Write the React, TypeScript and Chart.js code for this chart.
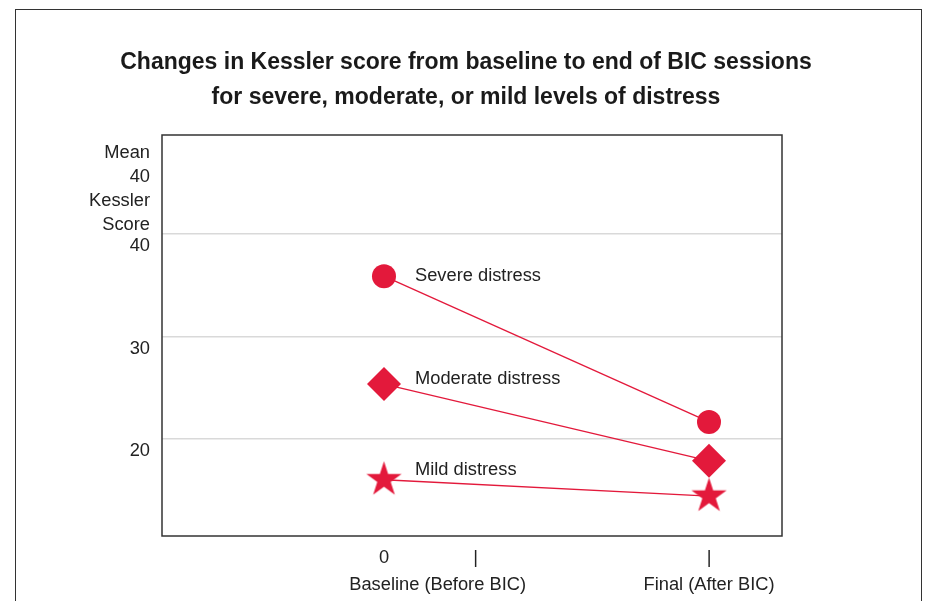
import React, { useEffect, useRef } from "react";
import { Chart, registerables } from "chart.js";

Chart.register(...registerables);

const titleLines = [
  "Changes in Kessler score from baseline to end of BIC sessions",
  "for severe, moderate, or mild levels of distress",
];
const yAxisLabelLines = ["Mean", "40", "Kessler", "Score"];
const yTickValues = [20, 30, 40];
const timePoints = [0, 1];
const seriesNames = ["Severe distress", "Moderate distress", "Mild distress"];
const severeValues = [35.9, 21.65];
const moderateValues = [25.35, 17.85];
const mildValues = [16.0, 14.4];
const xTickValues = [0, 0.165, 0.282, 1];
const xTickLabels: (string | string[])[] = ["0", ["", "Baseline (Before BIC)"], "|", ["|", "Final (After BIC)"]];

const RED = "#e3193b";
const FONT = "'Liberation Sans', Arial, Helvetica, sans-serif";
const LBL = 18.3;

function makeStar(R: number): HTMLCanvasElement {
  const c = document.createElement("canvas");
  const s = Math.ceil(R * 2 + 2);
  c.width = s;
  c.height = s;
  const ctx = c.getContext("2d")!;
  const cx = s / 2;
  const cy = s / 2;
  const r = R * 0.382;
  ctx.beginPath();
  for (let i = 0; i < 10; i++) {
    const ang = -Math.PI / 2 + (i * Math.PI) / 5;
    const rad = i % 2 === 0 ? R : r;
    const x = cx + Math.cos(ang) * rad;
    const y = cy + Math.sin(ang) * rad;
    if (i === 0) ctx.moveTo(x, y);
    else ctx.lineTo(x, y);
  }
  ctx.closePath();
  ctx.fillStyle = RED;
  ctx.fill();
  return c;
}

export default function App() {
  const ref = useRef<HTMLCanvasElement | null>(null);

  useEffect(() => {
    if (!ref.current) return;
    const star = makeStar(18.5);
    const labelOffsets = [0, -5, -10];

    const decor = {
      id: "decor",
      beforeDatasetsDraw(chart: any) {
        const { ctx, chartArea } = chart;
        ctx.save();
        ctx.strokeStyle = "#333";
        ctx.lineWidth = 1.5;
        ctx.strokeRect(chartArea.left, chartArea.top, chartArea.right - chartArea.left, chartArea.bottom - chartArea.top);
        ctx.restore();
      },
      afterDraw(chart: any) {
        const { ctx, chartArea } = chart;
        ctx.save();
        ctx.fillStyle = "#1a1a1a";
        ctx.font = `bold 23px ${FONT}`;
        ctx.textAlign = "center";
        ctx.textBaseline = "middle";
        titleLines.forEach((t, i) => ctx.fillText(t, 466, 63 + i * 35));
        ctx.font = `${LBL}px ${FONT}`;
        ctx.fillStyle = "#222";
        ctx.textAlign = "right";
        yAxisLabelLines.forEach((t, i) => ctx.fillText(t, chartArea.left - 12, 153 + i * 24));
        ctx.textAlign = "left";
        seriesNames.forEach((name, i) => {
          const el = chart.getDatasetMeta(i).data[0];
          ctx.fillText(name, el.x + 31, el.y + labelOffsets[i]);
        });
        ctx.restore();
      },
    };

    const mk = (vals: number[]) => timePoints.map((t, i) => ({ x: t, y: vals[i] }));

    const chart = new Chart(ref.current, {
      type: "scatter",
      data: {
        datasets: [
          { label: seriesNames[0], data: mk(severeValues), pointStyle: "circle", pointRadius: 12 },
          { label: seriesNames[1], data: mk(moderateValues), pointStyle: "rectRot", pointRadius: 17 },
          { label: seriesNames[2], data: mk(mildValues), pointStyle: star as any, pointRadius: 18 },
        ].map((d) => ({
          ...d,
          showLine: true,
          borderColor: RED,
          borderWidth: 1.3,
          backgroundColor: RED,
          pointBackgroundColor: RED,
          pointBorderWidth: 0,
          pointHoverRadius: d.pointRadius,
        })) as any,
      },
      options: {
        responsive: false,
        devicePixelRatio: 1,
        animation: false,
        layout: { padding: { top: 135, right: 146, left: 0, bottom: 0 } },
        plugins: { legend: { display: false }, title: { display: false }, tooltip: { enabled: false } },
        scales: {
          x: {
            type: "linear",
            min: -0.683,
            max: 1.2246,
            border: { display: false },
            grid: { display: false, drawTicks: false },
            afterBuildTicks: (s: any) => {
              s.ticks = xTickValues.map((v) => ({ value: v }));
            },
            afterFit: (s: any) => {
              s.height = 65;
            },
            ticks: {
              autoSkip: false,
              maxRotation: 0,
              padding: 9,
              color: "#222",
              font: { family: FONT, size: LBL, lineHeight: 26.5 / LBL },
              callback: (v: any) => {
                const i = xTickValues.indexOf(v);
                return i >= 0 ? xTickLabels[i] : "";
              },
            },
          },
          y: {
            type: "linear",
            min: 10.5,
            max: 49.7,
            border: { display: false },
            grid: { color: "#d9d9d9", lineWidth: 1.5, drawTicks: false },
            afterBuildTicks: (s: any) => {
              s.ticks = yTickValues.map((v) => ({ value: v }));
            },
            afterFit: (s: any) => {
              s.width = 162;
            },
            ticks: {
              padding: 12,
              labelOffset: 12,
              color: "#222",
              font: { family: FONT, size: LBL },
              callback: (v: any) => String(v),
            },
          },
        },
      },
      plugins: [decor],
    });
    return () => chart.destroy();
  }, []);

  return (
    <div style={{ position: "fixed", left: 0, top: 0, width: 928, height: 601, background: "#fff", overflow: "hidden" }}>
      <div
        style={{
          position: "absolute",
          left: 15,
          top: 9,
          width: 905,
          height: 700,
          borderTop: "1.5px solid #333",
          borderLeft: "1.5px solid #333",
          borderRight: "1.5px solid #333",
        }}
      />
      <canvas ref={ref} width={928} height={601} style={{ position: "absolute", left: 0, top: 0 }} />
    </div>
  );
}
